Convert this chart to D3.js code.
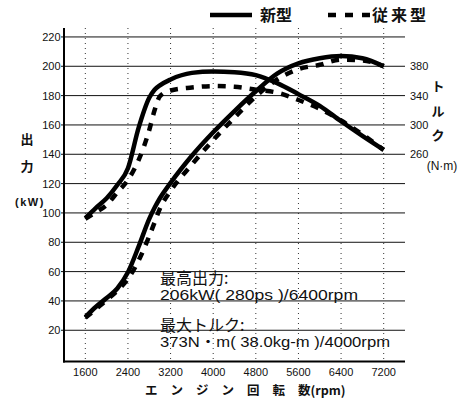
<!DOCTYPE html>
<html>
<head>
<meta charset="utf-8">
<script src="https://cdn.jsdelivr.net/npm/d3@7"></script>
<style>
  html, body { margin: 0; padding: 0; background: #fff; }
  svg { display: block; }
  text { font-family: "Liberation Sans", Arial, "Noto Sans CJK JP", sans-serif; fill: #111; }
  .cjk { font-family: "Noto Sans CJK JP", "Liberation Sans", sans-serif; }
</style>
</head>
<body>
<svg id="chart" width="472" height="401"></svg>
<script>
// ---- data ----
const rpm        = [1600, 1800, 2000, 2200, 2400, 2600, 2800, 2900, 3000, 3200, 3600, 4000, 4400, 4800, 5200, 5600, 6000, 6400, 6800, 7200];
const powerNew   = [29, 36, 42, 48.5, 59.5, 77, 96, 103.5, 110, 120.5, 139, 155, 169.5, 183, 195, 202, 205.5, 207, 205.5, 200];
const powerOld   = [28.5, 34.5, 40.5, 47, 55, 67.5, 84.2, 93.5, 103, 115, 133, 149.7, 165, 179.5, 191, 198, 201, 204.5, 204, 200];
const torqueNew  = [173, 187, 200, 218, 241, 296, 337, 348, 354, 362, 371, 373, 372, 368, 357, 342, 326, 305, 285, 266];
const torqueOld  = [172, 181, 191, 208, 225, 252, 293, 320, 339, 347, 351, 353, 352, 348, 344, 334, 322, 306, 287, 266];
const xTicks      = [1600, 2400, 3200, 4000, 4800, 5600, 6400, 7200];
const powerTicks  = [20, 40, 60, 80, 100, 120, 140, 160, 180, 200, 220];
const torqueTicks = [260, 300, 340, 380];
const legendLabels = ["新型", "従来型"];

// ---- layout ----
const L = 64, R = 405, T = 28, B = 361.5;
const svg = d3.select("#chart");
const x = d3.scaleLinear().domain([1200, 7600]).range([L, R]);
const y = d3.scaleLinear().domain([-1.3, 226.1]).range([B, T]);
const yT = d3.scaleLinear().domain([2 * -1.3 - 20, 2 * 226.1 - 20]).range([B, T]);

// vertical dotted gridlines
svg.append("g").selectAll("line").data(xTicks).join("line")
  .attr("x1", d => x(d)).attr("x2", d => x(d))
  .attr("y1", T).attr("y2", B)
  .attr("stroke", "#333").attr("stroke-width", 1)
  .attr("stroke-dasharray", "1,4");

// horizontal gridlines
svg.append("g").selectAll("line").data(powerTicks).join("line")
  .attr("x1", L - 3).attr("x2", R)
  .attr("y1", d => y(d)).attr("y2", d => y(d))
  .attr("stroke", "#111").attr("stroke-width", 1);

// axes lines
svg.append("line").attr("x1", L).attr("x2", L).attr("y1", T).attr("y2", B + 1)
  .attr("stroke", "#000").attr("stroke-width", 2);
svg.append("line").attr("x1", L - 1).attr("x2", R).attr("y1", B).attr("y2", B)
  .attr("stroke", "#000").attr("stroke-width", 2);

// left tick labels
svg.append("g").selectAll("text").data(powerTicks).join("text")
  .attr("x", L - 3.5).attr("y", d => y(d) + 4)
  .attr("text-anchor", "end").attr("font-size", 11).attr("fill", "#222")
  .text(d => d);

// right tick labels (torque)
svg.append("g").selectAll("text").data(torqueTicks).join("text")
  .attr("x", 410).attr("y", d => yT(d) + 4)
  .attr("text-anchor", "start").attr("font-size", 11).attr("fill", "#222")
  .text(d => d);

// x tick labels
svg.append("g").selectAll("text").data(xTicks).join("text")
  .attr("x", d => x(d)).attr("y", 375.5)
  .attr("text-anchor", "middle").attr("font-size", 11).attr("fill", "#222")
  .text(d => d);

// curves
const line = vals => d3.line().x((d, i) => x(rpm[i])).y(d => y(d)).curve(d3.curveMonotoneX)(vals);
const lineT = vals => d3.line().x((d, i) => x(rpm[i])).y(d => yT(d)).curve(d3.curveMonotoneX)(vals);

const curves = [
  { path: lineT(torqueOld), dash: "8,8" },
  { path: line(powerOld), dash: "8,8" },
  { path: lineT(torqueNew), dash: null },
  { path: line(powerNew), dash: null }
];
svg.append("g").selectAll("path").data(curves).join("path")
  .attr("d", d => d.path)
  .attr("fill", "none").attr("stroke", "#000").attr("stroke-width", 4.5)
  .attr("stroke-linecap", "butt").attr("stroke-linejoin", "round")
  .attr("stroke-dasharray", d => d.dash);

// legend
svg.append("line").attr("x1", 210).attr("x2", 252).attr("y1", 15).attr("y2", 15)
  .attr("stroke", "#000").attr("stroke-width", 4.5);
svg.append("text").attr("class", "cjk").attr("x", 260).attr("y", 21)
  .attr("font-size", 16).attr("font-weight", "bold").text(legendLabels[0]);
svg.append("line").attr("x1", 328).attr("x2", 371).attr("y1", 15).attr("y2", 15)
  .attr("stroke", "#000").attr("stroke-width", 4.5).attr("stroke-dasharray", "8,9");
svg.append("text").attr("class", "cjk").attr("x", 372).attr("y", 21)
  .attr("font-size", 16).attr("font-weight", "bold")
  .attr("textLength", 54).attr("lengthAdjust", "spacing").text(legendLabels[1]);

// left axis title
svg.append("text").attr("class", "cjk").attr("x", 27).attr("y", 144)
  .attr("text-anchor", "middle").attr("font-size", 13).attr("font-weight", "bold").text("出");
svg.append("text").attr("class", "cjk").attr("x", 27).attr("y", 171)
  .attr("text-anchor", "middle").attr("font-size", 13).attr("font-weight", "bold").text("力");
svg.append("text").attr("x", 30).attr("y", 206)
  .attr("text-anchor", "middle").attr("font-size", 11).attr("font-weight", "bold")
  .attr("letter-spacing", 1.5).text("(kW)");

// right axis title
[["ト", 91], ["ル", 116], ["ク", 140]].forEach(([c, yy]) => {
  svg.append("text").attr("class", "cjk").attr("x", 438).attr("y", yy)
    .attr("text-anchor", "middle").attr("font-size", 13).attr("font-weight", "bold").text(c);
});
svg.append("text").attr("x", 442).attr("y", 170)
  .attr("text-anchor", "middle").attr("font-size", 12).text("(N·m)");

// x axis title
const xt = svg.append("text").attr("class", "cjk").attr("x", 145).attr("y", 395)
  .attr("font-size", 12.5).attr("font-weight", "bold");
xt.append("tspan").attr("letter-spacing", 13).text("エンジン回転");
xt.append("tspan").text("数(rpm)");

// annotations
svg.append("text").attr("class", "cjk").attr("x", 160).attr("y", 284)
  .attr("font-size", 16).text("最高出力:");
svg.append("text").attr("x", 160).attr("y", 300)
  .attr("font-size", 14.5).attr("textLength", 198).attr("lengthAdjust", "spacingAndGlyphs")
  .text("206kW( 280ps )/6400rpm");
svg.append("text").attr("class", "cjk").attr("x", 160).attr("y", 331)
  .attr("font-size", 16).text("最大トルク:");
svg.append("text").attr("x", 160).attr("y", 347)
  .attr("font-size", 14.5).attr("textLength", 230).attr("lengthAdjust", "spacingAndGlyphs")
  .text("373N・m( 38.0kg-m )/4000rpm");
</script>
</body>
</html>
